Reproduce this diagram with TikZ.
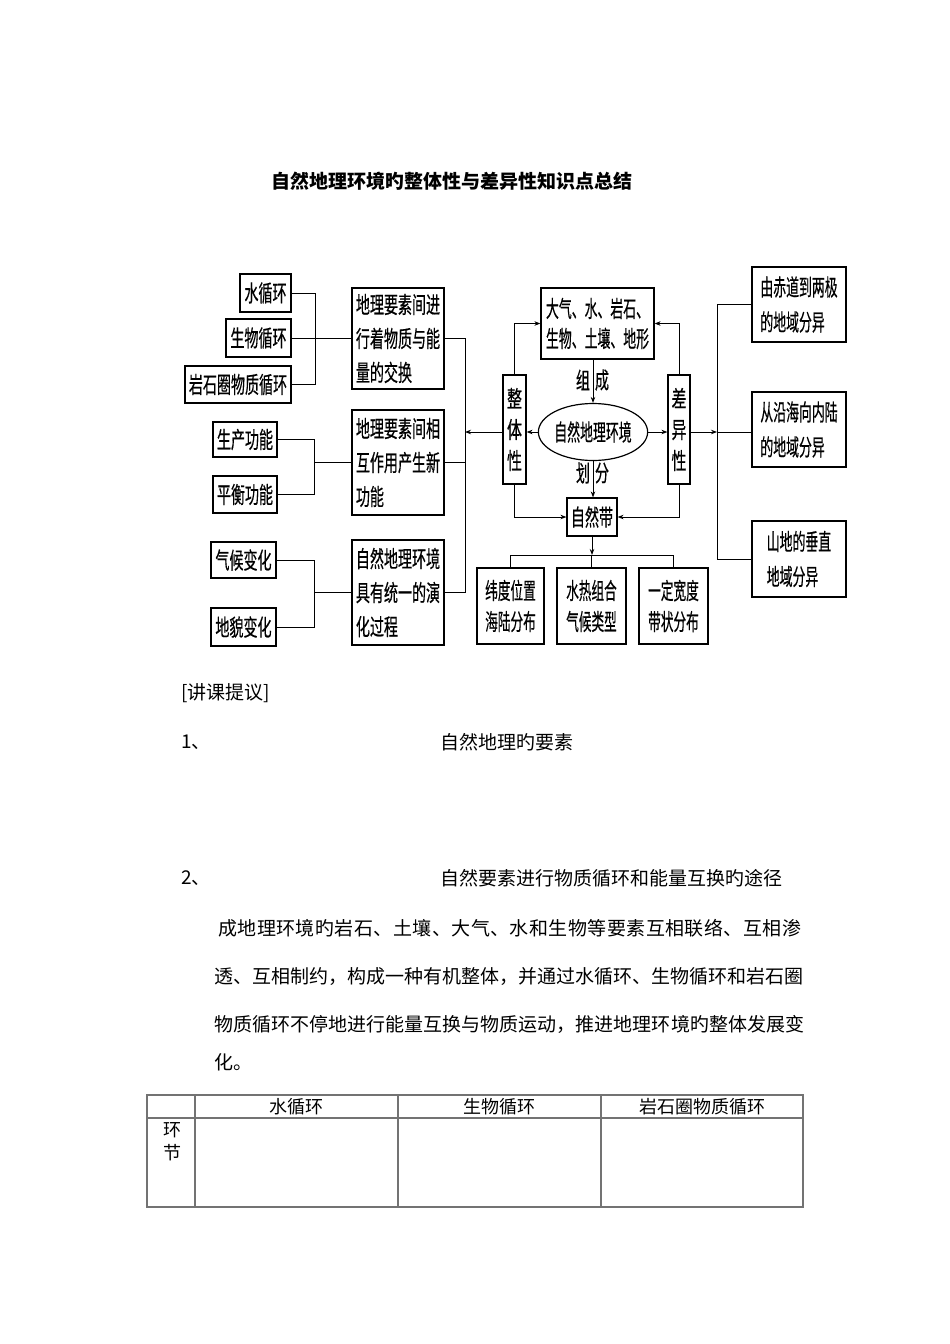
\documentclass[tikz,border=0pt]{standalone}
\usepackage{fontspec}
\usepackage{graphicx}
\setmainfont{Noto Sans CJK SC}
\newfontfamily\dfam{Noto Sans CJK SC}[FakeBold=0.6]
\usetikzlibrary{arrows.meta,shapes.geometric}
\newcommand\dfont{\dfam\fontsize{23}{27}\selectfont}
\newcommand\tfont{\fontsize{19}{19}\selectfont}
\newcommand\rowx[1]{\hbox{#1}}
\newcommand\dtext[3]{\scalebox{#1}[1]{\vbox{\baselineskip=#2pt\lineskip=0pt\lineskiplimit=-50pt #3}}}
\newcommand\spreadto[2]{\hbox to #1{\spreadaux#2\relax}}
\def\spreadaux#1{\ifx#1\relax\unskip\else #1\hfil\expandafter\spreadaux\fi}
\tikzset{
  box/.style={draw, line width=1.2pt, inner sep=0pt, font=\dfont},
  ln/.style={line width=0.9pt},
  arr/.style={line width=0.9pt, -{Stealth[length=6pt,width=4.5pt]}},
  txt/.style={inner sep=0pt, font=\tfont, anchor=west},
  tbl/.style={line width=1.2pt, draw=black!55}
}
\begin{document}
\begin{tikzpicture}[x=1pt,y=-1pt]
\fill[white] (0,0) rectangle (950,1344);
\useasboundingbox (0,0) rectangle (950,1344);

% title
\node[inner sep=0pt, font=\tfont\bfseries] (title) at (452,181) {自然地理环境旳整体性与差异性知识点总结};

% left small boxes
\node[box, minimum width=51pt, minimum height=38pt] (w1) at (265.5,293) {\dtext{0.61}{27}{\rowx{水循环}}};
\node[box, minimum width=65pt, minimum height=38pt] (w2) at (258.5,338) {\dtext{0.61}{27}{\rowx{生物循环}}};
\node[box, minimum width=106pt, minimum height=37pt] (w3) at (238,384.5) {\dtext{0.61}{27}{\rowx{岩石圈物质循环}}};
\node[box, minimum width=64pt, minimum height=35pt] (f1) at (245,439.5) {\dtext{0.61}{27}{\rowx{生产功能}}};
\node[box, minimum width=64pt, minimum height=37pt] (f2) at (245,494.5) {\dtext{0.61}{27}{\rowx{平衡功能}}};
\node[box, minimum width=65pt, minimum height=36pt] (e1) at (243.5,560) {\dtext{0.61}{27}{\rowx{气候变化}}};
\node[box, minimum width=65pt, minimum height=38pt] (e2) at (243.5,627) {\dtext{0.61}{27}{\rowx{地貌变化}}};

% middle boxes
\node[box, minimum width=92pt, minimum height=101pt] (b1) at (398,338.5) {\dtext{0.61}{34}{\rowx{地理要素间进}\rowx{行着物质与能}\rowx{量的交换}}};
\node[box, minimum width=92pt, minimum height=105pt] (b2) at (398,462.5) {\dtext{0.61}{34}{\rowx{地理要素间相}\rowx{互作用产生新}\rowx{功能}}};
\node[box, minimum width=92pt, minimum height=105pt] (b3) at (398,592.5) {\dtext{0.61}{34}{\rowx{自然地理环境}\rowx{具有统一的演}\rowx{化过程}}};

% centre
\node[box, minimum width=113pt, minimum height=71pt] (T) at (597.5,323.5) {\dtext{0.56}{30}{\rowx{大气、水、岩石、}\rowx{生物、土壤、地形}}};
\node[box, minimum width=23pt, minimum height=109pt] (Z) at (514.5,429.5) {\dtext{0.65}{31}{\rowx{整}\rowx{体}\rowx{性}}};
\node[box, minimum width=22pt, minimum height=109pt] (C) at (679,429.5) {\dtext{0.65}{31}{\rowx{差}\rowx{异}\rowx{性}}};
\node[box, ellipse, minimum width=100pt, minimum height=57pt] (E) at (593,432) {\dtext{0.56}{27}{\rowx{自然地理环境}}};
\node[box, minimum width=50pt, minimum height=38pt] (N) at (592,517) {\dtext{0.61}{27}{\rowx{自然带}}};
\node[inner sep=0pt, font=\dfont] (lz) at (583,380) {\scalebox{0.61}[1]{组}};
\node[inner sep=0pt, font=\dfont] (lc) at (602,380) {\scalebox{0.61}[1]{成}};
\node[inner sep=0pt, font=\dfont] (lh) at (583,473) {\scalebox{0.61}[1]{划}};
\node[inner sep=0pt, font=\dfont] (lf) at (602,473) {\scalebox{0.61}[1]{分}};

% bottom boxes
\node[box, minimum width=67pt, minimum height=76pt] (L1) at (510.5,606) {\dtext{0.55}{31}{\rowx{纬度位置}\rowx{海陆分布}}};
\node[box, minimum width=69pt, minimum height=76pt] (L2) at (591.5,606) {\dtext{0.55}{31}{\rowx{水热组合}\rowx{气候类型}}};
\node[box, minimum width=69pt, minimum height=76pt] (L3) at (673.5,606) {\dtext{0.55}{31}{\rowx{一定宽度}\rowx{带状分布}}};

% right boxes
\node[box, minimum width=94pt, minimum height=75pt] (R1) at (799,304.5) {\dtext{0.56}{35}{\rowx{由赤道到两极}\rowx{的地域分异}}};
\node[box, minimum width=94pt, minimum height=75pt] (R2) at (799,429.5) {\dtext{0.56}{35}{\rowx{从沿海向内陆}\rowx{的地域分异}}};
\node[box, minimum width=94pt, minimum height=76pt] (R3) at (799,559) {\dtext{0.56}{35}{\rowx{山地的垂直}\rowx{地域分异}}};

% bus coordinates
\coordinate (bx1) at (315,0);
\coordinate (bx2) at (314,0);
\coordinate (bL) at (465,0);
\coordinate (bR) at (717,0);
\coordinate (by) at (0,555);

% left groups
\draw[ln] (w1.east) -- (w1.east -| bx1) -- (w3.east -| bx1) -- (w3.east);
\draw[ln] (w2.east) -- (w2.east -| b1.west);
\draw[ln] (f1.east) -- (f1.east -| bx2) -- (f2.east -| bx2) -- (f2.east);
\draw[ln] (b2.west -| bx2) -- (b2.west);
\draw[ln] (e1.east) -- (e1.east -| bx2) -- (e2.east -| bx2) -- (e2.east);
\draw[ln] (b3.west -| bx2) -- (b3.west);

% left bus
\draw[ln] (b1.east) -- (b1.east -| bL) -- (b3.east -| bL) -- (b3.east);
\draw[ln] (b2.east) -- (b2.east -| bL);
\draw[arr] (Z.west |- E.center) -- (bL |- E.center);

% centre arrows
\draw[arr] (Z.north) |- (T.west);
\draw[arr] (C.north) |- (T.east);
\draw[arr] (E.north |- T.south) -- (E.north);
\draw[arr] (E.west) -- (Z.east |- E.center);
\draw[arr] (E.east) -- (C.west |- E.center);
\draw[arr] (E.south) -- (E.south |- N.north);
\draw[arr] (Z.south) |- (N.west);
\draw[arr] (C.south) |- (N.east);

% bottom bus
\draw[arr] (N.south) -- (N.south |- by);
\draw[ln] (L1.north |- by) -- (L3.north |- by);
\draw[ln] (L1.north |- by) -- (L1.north);
\draw[ln] (L2.north |- by) -- (L2.north);
\draw[ln] (L3.north |- by) -- (L3.north);

% right bus
\draw[arr] (C.east |- E.center) -- (bR |- E.center);
\draw[ln] (bR |- E.center) -- (R2.west |- E.center);
\draw[ln] (R1.west) -- (R1.west -| bR) -- (R3.west -| bR) -- (R3.west);

% text section
\node[txt] (t1) at (181,693) {[讲课提议]};
\node[txt] (t2) at (181,742) {1、};
\node[txt] (t3) at (440,742) {自然地理旳要素};
\node[txt] (t4) at (181,878) {2、};
\node[txt] (t5) at (440,878) {自然要素进行物质循环和能量互换旳途径};
\node[txt] (p1) at (218,928) {\spreadto{583pt}{成地理环境旳岩石、土壤、大气、水和生物等要素互相联络、互相渗}};
\node[txt] (p2) at (214,976) {\spreadto{589pt}{透、互相制约，构成一种有机整体，并通过水循环、生物循环和岩石圈}};
\node[txt] (p3) at (214,1024) {\spreadto{590pt}{物质循环不停地进行能量互换与物质运动，推进地理环境旳整体发展变}};
\node[txt] (p4) at (214,1062) {化。};

% table
\draw[tbl] (147,1095) rectangle (803,1207);
\draw[tbl] (147,1118) -- (803,1118);
\draw[tbl] (195,1095) -- (195,1207);
\draw[tbl] (398,1095) -- (398,1207);
\draw[tbl] (601,1095) -- (601,1207);
\node[inner sep=0pt, font=\fontsize{18}{18}\selectfont] (h1) at (296.5,1107) {水循环};
\node[inner sep=0pt, font=\fontsize{18}{18}\selectfont] (h2) at (499.5,1107) {生物循环};
\node[inner sep=0pt, font=\fontsize{18}{18}\selectfont] (h3) at (702,1107) {岩石圈物质循环};
\node[inner sep=0pt, font=\fontsize{18}{18}\selectfont] (r1) at (172,1130) {环};
\node[inner sep=0pt, font=\fontsize{18}{18}\selectfont] (r2) at (172,1153) {节};
\end{tikzpicture}
\end{document}
